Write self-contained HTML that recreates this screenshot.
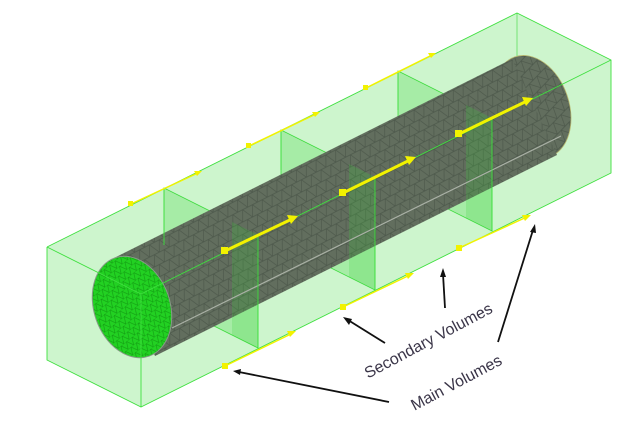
<!DOCTYPE html>
<html><head><meta charset="utf-8"><style>
html,body{margin:0;padding:0;background:#fff;width:640px;height:438px;overflow:hidden}
svg{display:block}
text{font-family:"Liberation Sans",sans-serif;font-size:16px;fill:#3a3548}
</style></head><body>
<svg width="640" height="438" viewBox="0 0 640 438">
<defs>
<pattern id="mesh" width="11" height="11" patternUnits="userSpaceOnUse" patternTransform="rotate(-27)">
<rect width="11" height="11" fill="#626e5e"/>
<path d="M0 0L11 0M0 0L5.5 11L11 0M0 11L11 11" stroke="#4d584b" stroke-width="0.7" fill="none"/>
</pattern>
<pattern id="gmesh" width="7" height="7" patternUnits="userSpaceOnUse" patternTransform="rotate(-20)">
<rect width="7" height="7" fill="#22d122"/>
<path d="M0 0L7 0M0 0L3.5 7L7 0" stroke="#129a12" stroke-width="0.6" fill="none"/>
</pattern>
</defs>
<polygon points="47,247 517,13 611,60 611,173 141,407 47,360" fill="#cdf5cd"/>
<line x1="517" y1="13" x2="517" y2="126" stroke="#5fe05f" stroke-width="0.8"/>
<g fill="#a6eca6" stroke="#3fdc3f" stroke-width="0.8">
<polygon points="164,188 258,235 258,348 164,301"/>
<polygon points="281,130 375,177 375,290 281,243"/>
<polygon points="398,71 492,118 492,231 398,184"/>
</g>
<ellipse cx="532" cy="107" rx="37" ry="53" transform="rotate(-19 532 107)" fill="url(#mesh)" stroke="#b8b870" stroke-width="0.8"/>
<polygon points="112,259 512,59 557,155 155,356" fill="url(#mesh)"/>
<g fill="rgba(60,210,60,0.22)">
<polygon points="232,222 258,235 258,348 232,335"/>
<polygon points="349,164 375,177 375,290 349,277"/>
<polygon points="466,105 492,118 492,231 466,218"/>
</g>
<line x1="172" y1="328" x2="561" y2="136" stroke="#a9b0a5" stroke-width="1.2"/>
<ellipse cx="132" cy="307" rx="38" ry="52" transform="rotate(-19 132 307)" fill="url(#gmesh)" stroke="#889988" stroke-width="1"/>
<g stroke="#3fe03f" stroke-width="0.9" fill="none">
<polyline points="47,247 517,13 611,60 611,173 141,407 47,360 47,247"/>
<line x1="47" y1="247" x2="141" y2="294"/>
<line x1="141" y1="294" x2="611" y2="60"/>
<line x1="141" y1="294" x2="141" y2="407"/>
<line x1="258" y1="235" x2="258" y2="348"/>
<line x1="375" y1="177" x2="375" y2="290"/>
<line x1="492" y1="118" x2="492" y2="231"/>
<line x1="164" y1="188" x2="164" y2="245"/>
<line x1="281" y1="130" x2="281" y2="170"/>
<line x1="398" y1="71" x2="398" y2="110"/>
</g>
<g stroke="#f2f200" fill="#f2f200">
<g stroke-width="1.5">
<line x1="131" y1="204" x2="200" y2="172"/><line x1="249" y1="146" x2="318" y2="113"/><line x1="366" y1="88" x2="434" y2="54"/>
<line x1="225" y1="366" x2="293" y2="333"/><line x1="343" y1="307" x2="412" y2="274"/><line x1="459" y1="248" x2="529" y2="216"/>
</g>
<g stroke-width="3">
<line x1="225" y1="251" x2="294" y2="218"/><line x1="343" y1="193" x2="412" y2="159"/><line x1="459" y1="134" x2="529" y2="100"/>
</g>
<g stroke="none">
<rect x="128" y="201" width="5" height="5"/><rect x="246" y="143" width="5" height="5"/><rect x="363" y="85" width="5" height="5"/>
<rect x="222" y="363" width="6" height="6"/><rect x="340" y="304" width="6" height="6"/><rect x="456" y="245" width="6" height="6"/>
<rect x="221" y="247" width="7" height="7"/><rect x="339" y="189" width="7" height="7"/><rect x="455" y="130" width="7" height="7"/>
<polygon points="202,171 194,171 197,176"/><polygon points="320,112 312,112 315,117"/><polygon points="436,53 428,53 431,58"/>
<polygon points="296,331 287,331 290,337"/><polygon points="414,273 405,273 408,279"/><polygon points="531,215 522,215 525,221"/>
<polygon points="298,216 287,215 291,224"/><polygon points="416,157 405,156 409,165"/><polygon points="533,98 522,97 526,106"/>
</g>
</g>
<g stroke="#111" stroke-width="1.8" fill="#111">
<line x1="445" y1="308" x2="443" y2="274"/><polygon points="443,268 440,277 446,277" stroke="none"/>
<line x1="385" y1="343" x2="348" y2="320"/><polygon points="343,317 349,325 352,319" stroke="none"/>
<line x1="498" y1="342" x2="533" y2="230"/><polygon points="535,224 530,232 536,233" stroke="none"/>
<line x1="389" y1="402" x2="239" y2="372"/><polygon points="233,371 241,369 240,375" stroke="none"/>
</g>
<text x="428" y="346" text-anchor="middle" transform="rotate(-28 428 340)">Secondary Volumes</text>
<text x="456" y="388" text-anchor="middle" transform="rotate(-28 456 382)">Main Volumes</text>
</svg>
</body></html>
